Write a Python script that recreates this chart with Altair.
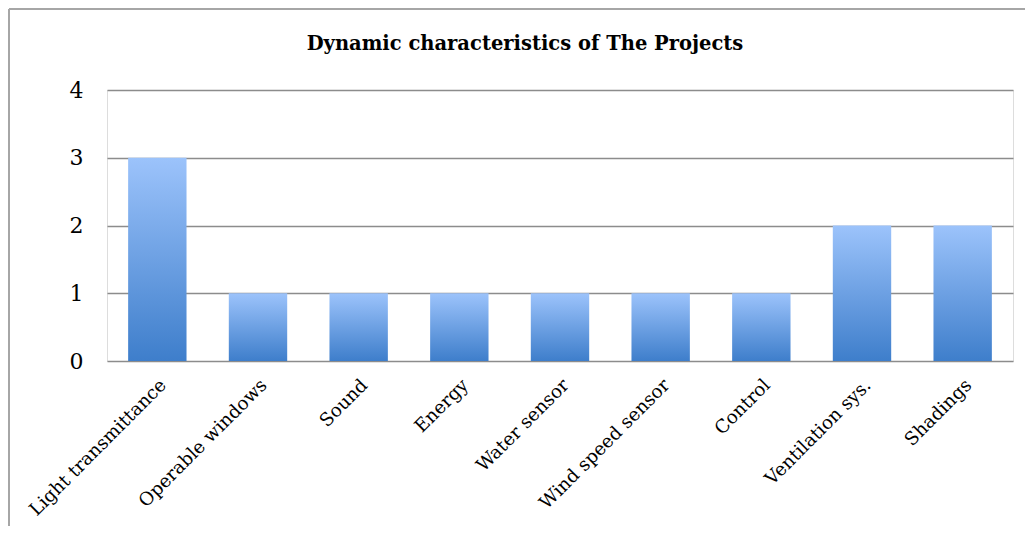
import altair as alt
import pandas as pd

categories = ["Light transmittance", "Operable windows", "Sound", "Energy",
              "Water sensor", "Wind speed sensor", "Control", "Ventilation sys.", "Shadings"]
values = [3, 1, 1, 1, 1, 1, 1, 2, 2]
y_ticks = [0, 1, 2, 3, 4]
title_text = "Dynamic characteristics of The Projects"

df = pd.DataFrame({"category": categories, "value": values})

SERIF = "DejaVu Serif"

gradient = alt.Gradient(
    gradient="linear",
    stops=[alt.GradientStop(color="#9cc3fb", offset=0),
           alt.GradientStop(color="#3e7ecb", offset=1)],
    x1=0, x2=0, y1=0, y2=1,
)

bars = alt.Chart(df).mark_bar(color=gradient).encode(
    x=alt.X("category:N", sort=categories, title=None,
            scale=alt.Scale(paddingInner=0.42, paddingOuter=0.21),
            axis=alt.Axis(labelAngle=-45, labelAlign="right", labelBaseline="top",
                          labelFont=SERIF, labelFontSize=18.3, labelColor="#000",
                          labelPadding=15, labelLimit=400, ticks=False, domain=False, grid=False)),
    y=alt.Y("value:Q", title=None,
            scale=alt.Scale(domain=[0, 4], nice=False),
            axis=alt.Axis(values=y_ticks, labelFont=SERIF, labelFontSize=22, labelColor="#000",
                          labelPadding=24, ticks=False, domain=False,
                          gridColor="#8c8c8c", gridWidth=1.5, gridOpacity=1)),
)

one = pd.DataFrame({"t": [title_text]})
title_mark = alt.Chart(one).mark_text(
    font=SERIF, fontSize=19.5, fontWeight="bold", color="#000", align="center", baseline="middle"
).encode(text="t:N", x=alt.value(418), y=alt.value(-46))

left_rule = alt.Chart(one).mark_rule(color="#a6a6a6", strokeWidth=2).encode(
    x=alt.value(-98), y=alt.value(-81), y2=alt.value(600))
top_rule = alt.Chart(one).mark_rule(color="#a6a6a6", strokeWidth=2).encode(
    x=alt.value(-98), x2=alt.value(1000), y=alt.value(-81))

chart = alt.layer(bars, title_mark, left_rule, top_rule).properties(
    width=906, height=271,
    autosize=alt.AutoSizeParams(type="none"),
    padding={"left": 99, "top": 82, "right": 12, "bottom": 165},
).configure_view(stroke=None).configure(background="white")

chart.save("out.html", embed_options={"renderer": "svg", "actions": False})
